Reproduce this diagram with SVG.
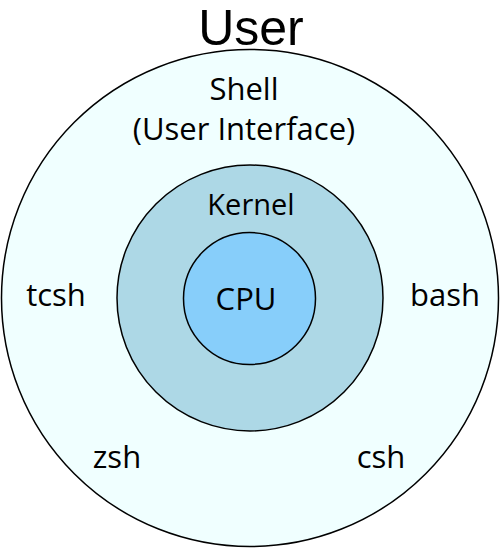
<svg xmlns="http://www.w3.org/2000/svg" width="500" height="549" viewBox="0 0 500 549">
<style>
.c{stroke:#000;stroke-width:1.5}
text{font-family:"Open Sans","Noto Sans","Liberation Sans",sans-serif;fill:#000;text-anchor:middle}
.t{font-size:31px}
</style>
<rect width="500" height="549" fill="#fff"/>
<g id="user"><text x="251" y="45" style="font-size:50px;font-family:'Liberation Sans',Arial,sans-serif">User</text></g>
<g id="shell">
<circle class="c" cx="250" cy="298" r="248.5" fill="#F0FFFF"/>
<text class="t" x="244" y="100">Shell</text>
<text class="t" x="244" y="140">(User Interface)</text>
<text class="t" x="56" y="306">tcsh</text>
<text class="t" x="445" y="306">bash</text>
<text class="t" x="117" y="468">zsh</text>
<text class="t" x="381" y="468">csh</text>
</g>
<g id="kernel">
<circle class="c" cx="250" cy="298" r="133" fill="#ADD8E6"/>
<text class="t" x="251" y="215" style="font-size:29px">Kernel</text>
</g>
<g id="cpu">
<circle class="c" cx="249.5" cy="298.5" r="66" fill="#87CEFA"/>
<text class="t" x="246" y="310">CPU</text>
</g>
<g id="connectors"/>
</svg>
